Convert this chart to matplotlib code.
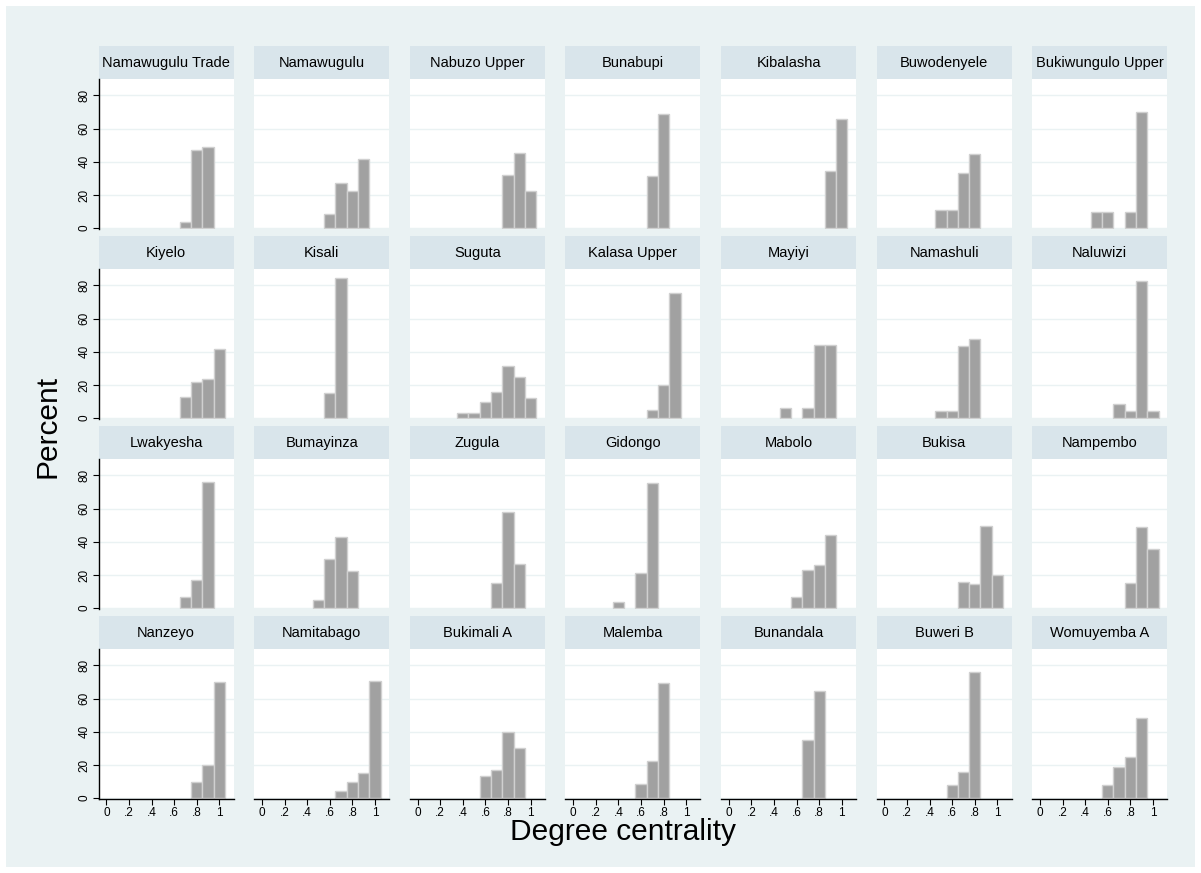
import matplotlib
matplotlib.use('Agg')
import matplotlib.pyplot as plt
from matplotlib.patches import Rectangle

plt.rcParams['font.family'] = ['Liberation Sans', 'DejaVu Sans']

# village names, in panel order (7 per row)
villages = ['Namawugulu Trade', 'Namawugulu', 'Nabuzo Upper', 'Bunabupi',
            'Kibalasha', 'Buwodenyele', 'Bukiwungulo Upper',
            'Kiyelo', 'Kisali', 'Suguta', 'Kalasa Upper',
            'Mayiyi', 'Namashuli', 'Naluwizi',
            'Lwakyesha', 'Bumayinza', 'Zugula', 'Gidongo',
            'Mabolo', 'Bukisa', 'Nampembo',
            'Nanzeyo', 'Namitabago', 'Bukimali A', 'Malemba',
            'Bunandala', 'Buweri B', 'Womuyemba A']

# histogram bin centres for degree centrality
bins = [0.0, 0.1, 0.2, 0.3, 0.4, 0.5, 0.6, 0.7, 0.8, 0.9, 1.0]

# percent of households in each bin, one list per village
percent = [
    [0, 0, 0, 0, 0, 0, 0, 4, 47, 49, 0],
    [0, 0, 0, 0, 0, 0, 8.5, 27.5, 22.5, 41.5, 0],
    [0, 0, 0, 0, 0, 0, 0, 0, 32, 45.5, 22.5],
    [0, 0, 0, 0, 0, 0, 0, 31.5, 68.5, 0, 0],
    [0, 0, 0, 0, 0, 0, 0, 0, 0, 34.5, 65.5],
    [0, 0, 0, 0, 0, 11.1, 11.1, 33.3, 44.4, 0, 0],
    [0, 0, 0, 0, 0, 10, 10, 0, 10, 70, 0],
    [0, 0, 0, 0, 0, 0, 0, 13, 22, 23.5, 41.5],
    [0, 0, 0, 0, 0, 0, 15.4, 84.6, 0, 0, 0],
    [0, 0, 0, 0, 3, 3, 9.7, 15.5, 31.4, 25, 12.4],
    [0, 0, 0, 0, 0, 0, 0, 4.7, 20, 75.3, 0],
    [0, 0, 0, 0, 0, 5.9, 0, 5.9, 44.1, 44.1, 0],
    [0, 0, 0, 0, 0, 4.35, 4.35, 43.5, 47.8, 0, 0],
    [0, 0, 0, 0, 0, 0, 0, 8.7, 4.3, 82.6, 4.3],
    [0, 0, 0, 0, 0, 0, 0, 6.9, 17.2, 75.9, 0],
    [0, 0, 0, 0, 0, 5.2, 29.7, 43, 22.1, 0, 0],
    [0, 0, 0, 0, 0, 0, 0, 15.4, 57.7, 26.9, 0],
    [0, 0, 0, 0, 3.9, 0, 20.9, 75.2, 0, 0, 0],
    [0, 0, 0, 0, 0, 0, 6.7, 23.3, 26, 44, 0],
    [0, 0, 0, 0, 0, 0, 0, 15.9, 14.6, 49.7, 19.8],
    [0, 0, 0, 0, 0, 0, 0, 0, 15.2, 49.2, 35.6],
    [0, 0, 0, 0, 0, 0, 0, 0, 10, 20, 70],
    [0, 0, 0, 0, 0, 0, 0, 4.5, 9.8, 15.2, 70.5],
    [0, 0, 0, 0, 0, 0, 13.3, 16.7, 40, 30, 0],
    [0, 0, 0, 0, 0, 0, 8.3, 22.2, 69.5, 0, 0],
    [0, 0, 0, 0, 0, 0, 0, 35.3, 64.7, 0, 0],
    [0, 0, 0, 0, 0, 0, 8, 16, 76, 0, 0],
    [0, 0, 0, 0, 0, 0, 8, 19, 24.8, 48.2, 0],
]

xticks = [0, 0.2, 0.4, 0.6, 0.8, 1.0]
xticklabels = ['0', '.2', '.4', '.6', '.8', '1']
yticks = [0, 20, 40, 60, 80]

W, H = 1201, 873
BG = '#eaf2f3'
STRIP = '#d9e5eb'
BAR = '#a1a1a1'
BAR_EDGE = '#d0d0d0'

fig = plt.figure(figsize=(W / 100, H / 100), dpi=100)
fig.patch.set_facecolor('white')
fig.add_artist(Rectangle((6 / W, 6 / H), (W - 12) / W, (H - 12) / H,
                         transform=fig.transFigure, facecolor=BG,
                         edgecolor='none', zorder=0))


def frac(x, y, w, h):
    # pixel box (top-left origin) -> figure fraction rect
    return [x / W, 1 - (y + h) / H, w / W, h / H]


ncols = 7
for i, name in enumerate(villages):
    r, c = divmod(i, ncols)
    left = 98.6 + c * 155.6
    top = 79.3 + r * 190
    pw, ph = 135, 149.7

    # title strip above each panel
    sax = fig.add_axes(frac(left, top - 33, pw, 33))
    sax.set_facecolor(STRIP)
    sax.set_xticks([])
    sax.set_yticks([])
    for s in sax.spines.values():
        s.set_visible(False)
    sax.text(0.5, 0.5, name, ha='center', va='center', fontsize=10.5,
             color='black', transform=sax.transAxes)

    ax = fig.add_axes(frac(left, top, pw, ph))
    ax.set_facecolor('white')
    xs = [b for b, p in zip(bins, percent[i]) if p > 0]
    hs = [p for p in percent[i] if p > 0]
    ax.bar(xs, hs, width=0.1, color=BAR, edgecolor=BAR_EDGE,
           linewidth=1.0, zorder=2)
    ax.set_xlim(-0.069, 1.126)
    ax.set_ylim(-0.5, 89.7)
    ax.set_yticks(yticks)
    ax.set_xticks(xticks)
    ax.yaxis.grid(True, color=BG, linewidth=1.0, zorder=1)
    ax.set_axisbelow(True)
    for s in ax.spines.values():
        s.set_visible(False)

    if c == 0:
        ax.spines['left'].set_visible(True)
        ax.spines['left'].set_linewidth(1.0)
        ax.tick_params(axis='y', length=4, width=0.8, labelsize=8.5,
                       pad=2, labelrotation=90)
        for lab in ax.get_yticklabels():
            lab.set_va('center')
    else:
        ax.tick_params(axis='y', left=False, labelleft=False)

    if r == 3:
        ax.spines['bottom'].set_visible(True)
        ax.spines['bottom'].set_linewidth(1.0)
        ax.set_xticklabels(xticklabels)
        ax.tick_params(axis='x', length=4, width=0.8, labelsize=8.5, pad=2)
    else:
        ax.tick_params(axis='x', bottom=False, labelbottom=False)

fig.text(47 / W, 1 - 426 / H, 'Percent', rotation=90, ha='center',
         va='center', fontsize=21.5)
fig.text(622.5 / W, 1 - 840 / H, 'Degree centrality', ha='center',
         va='baseline', fontsize=21.5)

fig.savefig('out.png', dpi=100, facecolor=fig.get_facecolor())
